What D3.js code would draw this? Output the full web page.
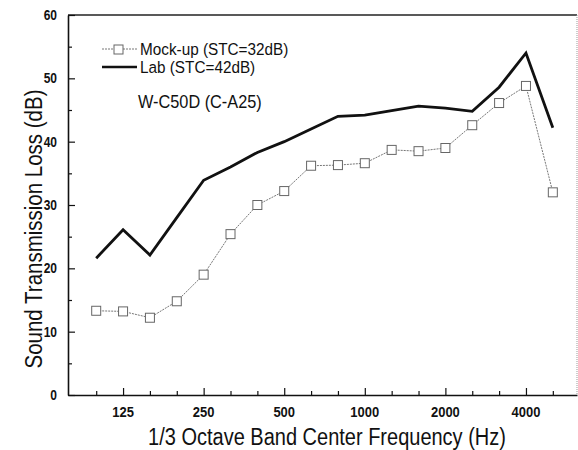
<!DOCTYPE html>
<html>
<head>
<meta charset="utf-8">
<script src="https://cdn.jsdelivr.net/npm/d3@7"></script>
<style>
  body { margin: 0; background: #fff; }
  text { font-family: "Liberation Sans", Arial, sans-serif; fill: #111; }
</style>
</head>
<body>
<svg id="chart" width="578" height="450"></svg>
<script>
// 1/3 octave band centres, 100 Hz .. 5000 Hz
var bands = ["100", "125", "160", "200", "250", "315", "400", "500", "630", "800",
             "1000", "1250", "1600", "2000", "2500", "3150", "4000", "5000"];
var mockup = [13.3, 13.2, 12.2, 14.8, 19.0, 25.4, 30.0, 32.2, 36.2, 36.3,
              36.6, 38.7, 38.5, 39.0, 42.6, 46.1, 48.8, 32.0];
var lab = [21.6, 26.1, 22.1, 28.0, 33.9, 36.0, 38.3, 40.0, 42.0, 44.0,
           44.2, 44.9, 45.6, 45.3, 44.8, 48.6, 54.0, 42.2];
var xTickLabels = ["125", "250", "500", "1000", "2000", "4000"];
var yTicks = [0, 10, 20, 30, 40, 50, 60];

(function () {
    var svg = d3.select("#chart");
    // plot box (note: "top" would clash with window.top)
    var pL = 68, pR = 577, pT = 15, pB = 395;

    // x works on band index so each 1/3 octave is equally spaced
    var x = d3.scaleLinear().domain([-1.05, 17.9]).range([pL, pR]);
    var y = d3.scaleLinear().domain([0, 60]).range([pB, pT]);

    // frame
    svg.append("line").attr("x1", pL).attr("x2", pR).attr("y1", pT).attr("y2", pT)
        .attr("stroke", "#222").attr("stroke-width", 1.3);
    svg.append("line").attr("x1", pR).attr("x2", pR).attr("y1", pT).attr("y2", pB)
        .attr("stroke", "#999").attr("stroke-width", 1).attr("stroke-dasharray", "1,1");

    // y axis, ticks inside
    var yAxis = d3.axisLeft(y).tickValues(d3.range(0, 61, 5)).tickSize(0).tickFormat("");
    var gy = svg.append("g").attr("transform", "translate(" + pL + ",0)").call(yAxis);
    gy.select(".domain").attr("stroke", "#111").attr("stroke-width", 1.6);
    gy.selectAll(".tick line").remove();
    gy.selectAll(".tick").append("line")
        .attr("x1", 0).attr("x2", function (d) { return d % 10 === 0 ? 7 : 4; })
        .attr("stroke", "#111").attr("stroke-width", 1.2);
    svg.selectAll("text.ylab").data(yTicks).enter().append("text")
        .attr("class", "ylab")
        .attr("transform", function (d) { return "translate(57," + (y(d) + 5) + ") scale(1,1.15)"; })
        .attr("text-anchor", "end").attr("font-size", 12).attr("font-weight", "bold")
        .text(function (d) { return d; });

    // x axis, ticks inside
    var xAxis = d3.axisBottom(x).tickValues(d3.range(0, 18)).tickSize(0).tickFormat("");
    var gx = svg.append("g").attr("transform", "translate(0," + pB + ")").call(xAxis);
    gx.select(".domain").attr("stroke", "#111").attr("stroke-width", 1.6);
    gx.selectAll(".tick line").remove();
    gx.selectAll(".tick").append("line")
        .attr("y1", 0).attr("y2", function (d) { return (d - 1) % 3 === 0 ? -7 : -4; })
        .attr("stroke", "#111").attr("stroke-width", 1.2);
    svg.selectAll("text.xlab").data(xTickLabels).enter().append("text")
        .attr("class", "xlab")
        .attr("transform", function (d) { return "translate(" + x(bands.indexOf(d)) + ",417) scale(1,1.15)"; })
        .attr("text-anchor", "middle").attr("font-size", 13).attr("font-weight", "bold")
        .text(function (d) { return d; });

    // axis titles
    svg.append("text")
        .attr("transform", "translate(42,229) rotate(-90) scale(1,1.15)")
        .attr("text-anchor", "middle").attr("font-size", 20.5)
        .text("Sound Transmission Loss (dB)");
    svg.append("text")
        .attr("transform", "translate(327,445) scale(1,1.15)")
        .attr("text-anchor", "middle").attr("font-size", 20)
        .text("1/3 Octave Band Center Frequency (Hz)");

    var line = d3.line()
        .x(function (d, i) { return x(i); })
        .y(function (d) { return y(d); });

    // lab curve
    svg.append("path").datum(lab)
        .attr("d", line)
        .attr("fill", "none").attr("stroke", "#111").attr("stroke-width", 2.8)
        .attr("stroke-linejoin", "miter");

    // mock-up curve
    svg.append("path").datum(mockup)
        .attr("d", line)
        .attr("fill", "none").attr("stroke", "#777").attr("stroke-width", 1)
        .attr("stroke-dasharray", "2,1");
    svg.selectAll("rect.pt").data(mockup).enter().append("rect")
        .attr("class", "pt")
        .attr("x", function (d, i) { return x(i) - 4.5; })
        .attr("y", function (d) { return y(d) - 4.5; })
        .attr("width", 9).attr("height", 9)
        .attr("fill", "#fff").attr("stroke", "#666").attr("stroke-width", 1);

    // legend
    var lg = svg.append("g");
    lg.append("line").attr("x1", 102).attr("x2", 137).attr("y1", 49).attr("y2", 49)
        .attr("stroke", "#777").attr("stroke-width", 1).attr("stroke-dasharray", "2,1");
    lg.append("rect").attr("x", 114).attr("y", 45).attr("width", 9).attr("height", 9)
        .attr("fill", "#fff").attr("stroke", "#666");
    lg.append("text").attr("transform", "translate(140,55) scale(1,1.1)").attr("font-size", 15.3)
        .text("Mock-up (STC=32dB)");
    lg.append("line").attr("x1", 102).attr("x2", 137).attr("y1", 67).attr("y2", 67)
        .attr("stroke", "#111").attr("stroke-width", 2.4);
    lg.append("text").attr("transform", "translate(140,73) scale(1,1.1)").attr("font-size", 15.3)
        .text("Lab (STC=42dB)");
    svg.append("text").attr("transform", "translate(138,108) scale(1,1.1)").attr("font-size", 16.3)
        .text("W-C50D (C-A25)");
})();
</script>
</body>
</html>
